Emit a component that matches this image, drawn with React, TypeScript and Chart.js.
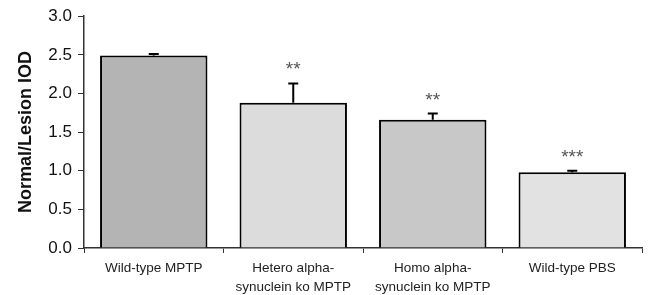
import React, { useEffect, useRef } from "react";
import { Chart, registerables } from "chart.js";

Chart.register(...registerables);

const categories: (string | string[])[] = [
  "Wild-type MPTP",
  ["Hetero alpha-", "synuclein ko MPTP"],
  ["Homo alpha-", "synuclein ko MPTP"],
  "Wild-type PBS",
];
const values = [2.49, 1.88, 1.66, 0.98];
const errors = [0.02, 0.25, 0.08, 0.02];
const significance = ["", "**", "**", "***"];
const barColors = ["#b4b4b4", "#dcdcdc", "#c8c8c8", "#e2e2e2"];
const yTicks = [0, 0.5, 1.0, 1.5, 2.0, 2.5, 3.0];

const FONT = "'Liberation Sans', Arial, sans-serif";

const errorBarPlugin = {
  id: "errorBars",
  afterDatasetsDraw(chart: any) {
    const { ctx, scales } = chart;
    const meta = chart.getDatasetMeta(0);
    const y = scales.y;
    ctx.save();
    meta.data.forEach((bar: any, i: number) => {
      const x = bar.x;
      const yTop = y.getPixelForValue(values[i]);
      const yErr = y.getPixelForValue(values[i] + errors[i]);
      ctx.strokeStyle = "#000";
      ctx.lineWidth = 2;
      ctx.beginPath();
      ctx.moveTo(x, yTop);
      ctx.lineTo(x, yErr);
      ctx.moveTo(x - 5, yErr);
      ctx.lineTo(x + 5, yErr);
      ctx.stroke();
      if (significance[i]) {
        ctx.fillStyle = "#555";
        ctx.font = "19px " + FONT;
        ctx.textAlign = "center";
        ctx.textBaseline = "alphabetic";
        ctx.fillText(significance[i], x, yErr - 8);
      }
    });
    ctx.restore();
  },
};

export default function App() {
  const ref = useRef<HTMLCanvasElement | null>(null);
  useEffect(() => {
    if (!ref.current) return;
    const chart = new Chart(ref.current, {
      type: "bar",
      data: {
        labels: categories,
        datasets: [
          {
            data: values,
            backgroundColor: barColors,
            borderColor: "#000",
            borderWidth: 2,
            borderSkipped: "bottom",
            categoryPercentage: 1,
            barPercentage: 0.77,
          },
        ],
      },
      options: {
        animation: false,
        responsive: false,
        maintainAspectRatio: false,
        layout: { padding: { top: 15, right: 8, bottom: 0, left: 0 } },
        plugins: { legend: { display: false }, tooltip: { enabled: false } },
        scales: {
          x: {
            grid: {
              display: true,
              drawOnChartArea: false,
              offset: true,
              color: "#333",
              tickLength: 5,
              tickWidth: 1,
            },
            border: { display: true, color: "#333", width: 1.5 },
            ticks: {
              color: "#222",
              font: { family: FONT, size: 13.5, lineHeight: 1.45 },
              maxRotation: 0,
              autoSkip: false,
              padding: 5,
            },
            afterFit(scale: any) {
              scale.height = 47;
            },
          },
          y: {
            min: 0,
            max: 3,
            afterBuildTicks(scale: any) {
              scale.ticks = yTicks.map((v) => ({ value: v }));
            },
            grid: {
              display: true,
              drawOnChartArea: false,
              color: "#333",
              tickLength: 6,
            },
            border: { display: true, color: "#333", width: 1.5 },
            ticks: {
              color: "#111",
              font: { family: FONT, size: 17 },
              padding: 6,
              callback: (v: any) => Number(v).toFixed(1),
            },
            title: {
              display: true,
              text: "Normal/Lesion IOD",
              color: "#111",
              font: { family: FONT, size: 18, weight: "bold" },
              padding: { top: 15, bottom: 0 },
            },
            afterFit(scale: any) {
              scale.width = 84;
            },
          },
        },
      },
      plugins: [errorBarPlugin],
    });
    return () => chart.destroy();
  }, []);
  return (
    <div style={{ position: "absolute", left: 0, top: 0, width: 650, height: 295, background: "#fff" }}>
      <canvas ref={ref} width={650} height={295} />
    </div>
  );
}
